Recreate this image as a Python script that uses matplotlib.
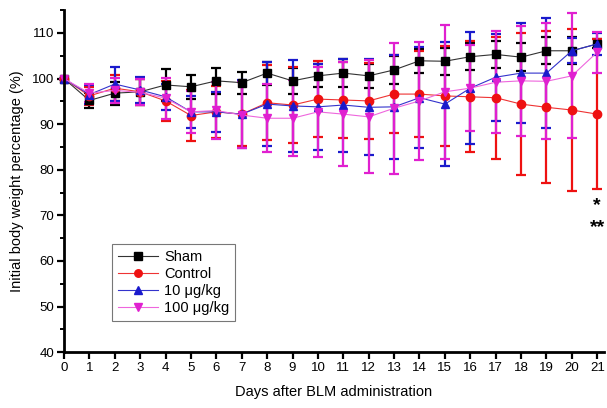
import matplotlib.pyplot as plt
import numpy as np
from matplotlib.ticker import MultipleLocator

plt.rcParams['font.family'] = ['Liberation Sans', 'DejaVu Sans']

days = list(range(22))

sham = [100, 95.2, 96.8, 97.1, 98.6, 98.2, 99.5, 99.1, 101.2, 99.5, 100.6,
        101.2, 100.6, 101.9, 103.9, 103.8, 104.8, 105.3, 104.7, 106.1, 106.1, 107.6]
sham_err = [0, 1.7, 2.5, 2.8, 3.6, 2.6, 2.8, 2.4, 2.5, 2.8, 2.5,
            3.0, 2.7, 3.0, 2.6, 3.0, 3.0, 3.0, 3.0, 3.0, 3.0, 1.0]

control = [100, 96.2, 97.9, 97.1, 95.1, 91.9, 92.7, 92.2, 94.7, 94.2, 95.5,
           95.3, 95.1, 96.6, 96.6, 96.2, 96.0, 95.8, 94.4, 93.7, 93.1, 92.2]
control_err = [0, 2.0, 2.8, 2.8, 4.3, 5.6, 5.7, 7.0, 8.2, 8.3, 8.4,
               8.4, 8.4, 8.5, 9.5, 11.0, 12.2, 13.4, 15.5, 16.7, 17.7, 16.4]

low = [100, 96.5, 98.8, 97.5, 96.0, 92.7, 92.7, 92.2, 94.4, 94.0, 93.8,
       94.2, 93.7, 93.8, 95.8, 94.4, 97.9, 100.3, 101.2, 101.2, 106.1, 107.6]
low_err = [0, 2.0, 3.8, 2.8, 2.9, 3.5, 4.4, 7.4, 9.2, 10.0, 9.5,
           10.2, 10.5, 11.4, 11.1, 13.6, 12.3, 9.5, 10.9, 12.0, 2.7, 2.5]

high = [100, 96.8, 97.4, 97.0, 95.7, 92.7, 93.0, 92.0, 91.3, 91.3, 92.7,
        92.2, 91.6, 93.5, 95.1, 97.1, 97.9, 99.2, 99.5, 99.4, 100.6, 105.8]
high_err = [0, 2.0, 2.8, 2.8, 4.5, 4.6, 6.2, 7.2, 7.5, 8.3, 9.8,
            11.4, 12.4, 14.4, 13.0, 14.7, 9.5, 11.2, 12.1, 12.7, 13.7, 4.5]

labels = ['Sham', 'Control', '10 \u03bcg/kg', '100 \u03bcg/kg']

fig = plt.figure(figsize=(6.07, 4.08), dpi=100)
ax = fig.add_axes([0.1054, 0.137, 0.889, 0.838])

series = [
    (sham, sham_err, 'black', 's', '#333333'),
    (control, control_err, '#ee1111', 'o', '#ee3333'),
    (low, low_err, '#1a1acc', '^', '#3333cc'),
    (high, high_err, '#e020d0', 'v', '#ee66dd'),
]
for (vals, err, c, m, lc), lab in zip(series, labels):
    ax.errorbar(days, vals, yerr=err, color=lc, ecolor=c, elinewidth=1.6,
                capsize=3.5, capthick=1.6, marker=m, markersize=6,
                markerfacecolor=c, markeredgecolor=c, linewidth=0.8,
                label=lab, clip_on=False)

# significance marks at day 21
ax.text(21, 72.2, '*', ha='center', va='center', fontsize=14, fontweight='bold')
ax.text(21, 67.4, '**', ha='center', va='center', fontsize=14, fontweight='bold')

ax.set_xlim(0, 21.25)
ax.set_ylim(40, 115)
ax.set_xticks(days)
ax.yaxis.set_major_locator(MultipleLocator(10))
ax.yaxis.set_minor_locator(MultipleLocator(5))
ax.spines['top'].set_visible(False)
ax.spines['right'].set_visible(False)
ax.spines['left'].set_linewidth(2)
ax.spines['bottom'].set_linewidth(2)
ax.tick_params(axis='both', which='major', direction='out', length=5, width=1.6,
               labelsize=9.5, pad=2)
ax.tick_params(axis='y', which='minor', direction='out', length=3, width=1.4)
ax.set_xlabel('Days after BLM administration', fontsize=10.5, labelpad=8)
ax.set_ylabel('Initial body weight percentage (%)', fontsize=10.5, labelpad=6)

handles, labs = ax.get_legend_handles_labels()
handles = [h[0] for h in handles]
leg = ax.legend(handles, labs, loc='lower left', bbox_to_anchor=(0.075, 0.07),
                fontsize=10.5, frameon=True, fancybox=False, edgecolor='#555555',
                handlelength=2.8, handletextpad=0.4, borderpad=0.4,
                labelspacing=0.2, markerscale=0.9)
leg.get_frame().set_linewidth(0.8)

fig.savefig('out.png', dpi=100)
